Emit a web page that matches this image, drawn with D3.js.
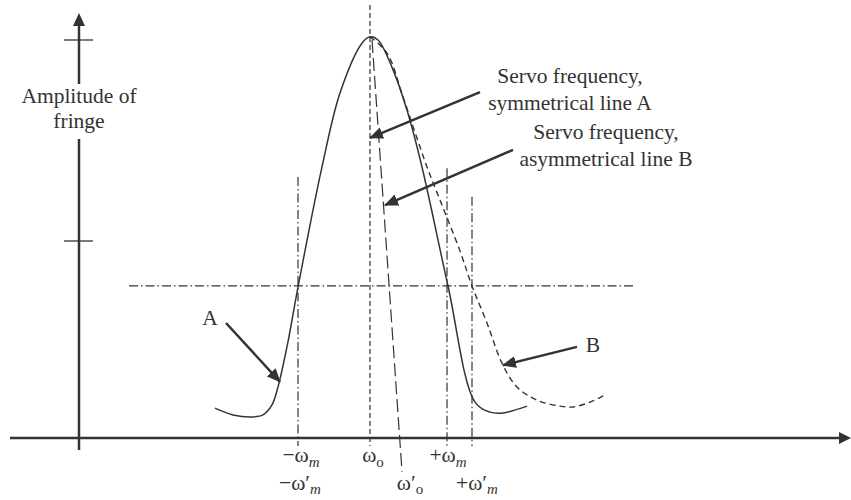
<!DOCTYPE html>
<html><head><meta charset="utf-8">
<script src="https://cdn.jsdelivr.net/npm/d3@7"></script>
<style>
html,body{margin:0;padding:0;background:#fff;}
text{font-family:"Liberation Serif","Times New Roman",serif;fill:#333;}
</style></head>
<body><svg id="c" width="851" height="500"></svg>
<script>
// ---- data (frequency relative to ω0 in arbitrary units, amplitude 0..1) ----
const lineA_freq = [-2.067,-1.827,-1.56,-1.427,-1.307,-1.227,-1.107,-0.96,-0.64,-0.40,-0.107,0,0.107,0.307,0.493,0.693,1.04,1.40,1.60,1.773,2.093];
const lineA_amp  = [0.075,0.058,0.053,0.058,0.083,0.128,0.229,0.379,0.681,0.867,0.992,1.008,1.0,0.925,0.824,0.681,0.382,0.090,0.065,0.063,0.080];
const lineB_freq = [0,0.227,0.44,0.76,0.933,1.2,1.36,1.56,1.76,1.96,2.227,2.533,2.707,2.933,3.133];
const lineB_amp  = [1.008,0.967,0.857,0.681,0.598,0.470,0.382,0.289,0.188,0.128,0.095,0.080,0.078,0.090,0.108];
const yTicks = [1.0, 0.495];
const threshold = 0.382;                 // horizontal dash-dot level
const markerFreqs = [-0.96, 1.027, 1.36]; // −ωm, +ωm, +ω'm
const markerTops  = [0.656, 0.678, 0.606];
const omega0 = 0;
const omega0p = [[0.027,1.0],[0.427,-0.085]];
const bottomLabels1 = [
  {u:-0.96, dx:3,  main:"−ω", sub:"m", it:true},
  {u:0,     dx:3,  main:"ω",  sub:"o", it:false},
  {u:1.027, dx:1,  main:"+ω", sub:"m", it:true}];
const bottomLabels2 = [
  {u:-0.96, dx:2,  main:"−ω′", sub:"m", it:true},
  {u:0.427, dx:8,  main:"ω′",  sub:"o", it:false},
  {u:1.36,  dx:5,  main:"+ω′", sub:"m", it:true}];

const W=851,H=500;
const svg=d3.select("#c");
const x=d3.scaleLinear().domain([-4,6]).range([70,820]);
const y=d3.scaleLinear().domain([0,1]).range([438,40]);
const col="#333";

svg.append("defs").append("marker")
  .attr("id","ah").attr("markerUnits","userSpaceOnUse")
  .attr("viewBox","0 0 14 12").attr("refX",13).attr("refY",6)
  .attr("markerWidth",14).attr("markerHeight",12).attr("orient","auto")
  .append("path").attr("d","M0,0L14,6L0,12Z").attr("fill",col);

// axes
const yAxX=x(-3.88);
svg.append("line").attr("x1",yAxX).attr("x2",yAxX).attr("y1",24).attr("y2",84).attr("stroke",col).attr("stroke-width",2.5);
svg.append("line").attr("x1",yAxX).attr("x2",yAxX).attr("y1",139).attr("y2",y(-0.03)).attr("stroke",col).attr("stroke-width",2.5);
svg.append("path").attr("d",`M${yAxX},13L${yAxX-6},26L${yAxX+6},26Z`).attr("fill",col);
svg.append("line").attr("x1",x(-4.8)).attr("x2",840).attr("y1",y(0)).attr("y2",y(0)).attr("stroke",col).attr("stroke-width",2.5);
svg.append("path").attr("d",`M851,${y(0)}L839,${y(0)-6}L839,${y(0)+6}Z`).attr("fill",col);
svg.selectAll(".tk").data(yTicks).enter().append("line")
  .attr("x1",yAxX-15).attr("x2",yAxX+14).attr("y1",d=>y(d)).attr("y2",d=>y(d))
  .attr("stroke",col).attr("stroke-width",1.3);

const fs=21.5;
svg.append("text").attr("x",yAxX).attr("y",103).attr("text-anchor","middle").attr("font-size",fs).text("Amplitude of");
svg.append("text").attr("x",yAxX).attr("y",128).attr("text-anchor","middle").attr("font-size",fs).text("fringe");

// reference lines
const dashDot="9,3,1.5,3";
svg.append("line").attr("x1",x(-3.213)).attr("x2",x(3.547)).attr("y1",y(threshold)).attr("y2",y(threshold))
  .attr("stroke",col).attr("stroke-width",1.2).attr("stroke-dasharray",dashDot);
svg.selectAll(".vm").data(markerFreqs).enter().append("line")
  .attr("x1",d=>x(d)).attr("x2",d=>x(d)).attr("y1",(d,i)=>y(markerTops[i])).attr("y2",y(-0.02))
  .attr("stroke",col).attr("stroke-width",1.2).attr("stroke-dasharray",dashDot);
svg.append("line").attr("x1",x(omega0)).attr("x2",x(omega0)).attr("y1",y(1.088)).attr("y2",y(-0.02))
  .attr("stroke",col).attr("stroke-width",1.2).attr("stroke-dasharray","5,3");
svg.append("line").attr("x1",x(omega0p[0][0])).attr("x2",x(omega0p[1][0]))
  .attr("y1",y(omega0p[0][1])).attr("y2",y(omega0p[1][1]))
  .attr("stroke",col).attr("stroke-width",1.2).attr("stroke-dasharray","13,5");

// curves
const ln=d3.line().x(d=>x(d[0])).y(d=>y(d[1])).curve(d3.curveCatmullRom.alpha(0.5));
svg.append("path").attr("d",ln(lineA_freq.map((f,i)=>[f,lineA_amp[i]])))
  .attr("fill","none").attr("stroke",col).attr("stroke-width",1.5);
svg.append("path").attr("d",ln(lineB_freq.map((f,i)=>[f,lineB_amp[i]])))
  .attr("fill","none").attr("stroke",col).attr("stroke-width",1.4).attr("stroke-dasharray","6,4");

// arrows
const arrows=[[[1.467,0.869],[0,0.754]],[[1.907,0.724],[0.2,0.585]],[[-1.92,0.289],[-1.2,0.141]],[[2.76,0.229],[1.773,0.183]]];
svg.selectAll(".ar").data(arrows).enter().append("line")
  .attr("x1",d=>x(d[0][0])).attr("y1",d=>y(d[0][1])).attr("x2",d=>x(d[1][0])).attr("y2",d=>y(d[1][1]))
  .attr("stroke",col).attr("stroke-width",2.5).attr("marker-end","url(#ah)");

// annotations
function block(cx,by,lines){lines.forEach((t,i)=>svg.append("text").attr("x",cx).attr("y",by+i*27).attr("text-anchor","middle").attr("font-size",fs).text(t));}
block(570,83,["Servo frequency,","symmetrical line A"]);
block(606,139,["Servo frequency,","asymmetrical line B"]);
svg.append("text").attr("x",210).attr("y",325).attr("text-anchor","middle").attr("font-size",fs).text("A");
svg.append("text").attr("x",593).attr("y",352).attr("text-anchor","middle").attr("font-size",fs).text("B");

// bottom labels
function lab(arr,by,sd){arr.forEach(d=>{
  const t=svg.append("text").attr("x",x(d.u)+d.dx).attr("y",by).attr("text-anchor","middle").attr("font-size",fs);
  t.append("tspan").text(d.main);
  t.append("tspan").attr("dy",sd).attr("font-size",15).attr("font-style",d.it?"italic":"normal").text(d.sub);
});}
lab(bottomLabels1,462,5);
lab(bottomLabels2,490,4);
</script></body></html>
